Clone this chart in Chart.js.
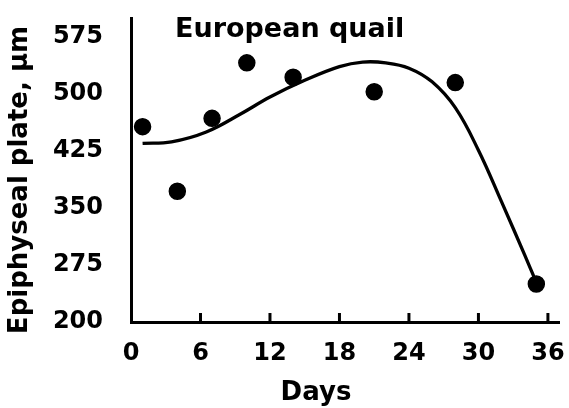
<!DOCTYPE html>
<html>
<head>
<meta charset="utf-8">
<script src="https://cdn.jsdelivr.net/npm/chart.js@4"></script>
<style>
  body { margin: 0; background: #fff; }
</style>
</head>
<body>
<canvas id="myChart" width="569" height="408"></canvas>
<script>
// measured points (days vs epiphyseal plate, um)
var days = [1, 4, 7, 10, 14, 21, 28, 35];
var plateWidth = [457, 372, 468, 541, 522, 503, 515, 250];

// trend curve
var trendDays = [1, 3.5, 6.5, 9.5, 12, 15, 18, 20, 22, 24, 26, 28, 30, 32, 34, 35];
var trendValues = [435, 437, 450, 474, 496, 518, 536, 542, 541, 534, 516, 482, 426, 358, 288, 252];

var xTicks = [0, 6, 12, 18, 24, 30, 36];
var yTicks = [200, 275, 350, 425, 500, 575];

var FONT = 'DejaVu Sans, Verdana, sans-serif';

function toXY(xs, ys) {
  return xs.map(function (x, i) { return { x: x, y: ys[i] }; });
}

// tick marks pointing up into the plot, plus the three titles
var extras = {
  id: 'extras',
  afterDraw: function (chart) {
    var ctx = chart.ctx;
    var xs = chart.scales.x;
    var area = chart.chartArea;
    ctx.save();
    ctx.strokeStyle = '#000';
    ctx.lineWidth = 3;
    xTicks.forEach(function (v) {
      if (v === 0) return;
      var px = xs.getPixelForValue(v);
      ctx.beginPath();
      ctx.moveTo(px, area.bottom);
      ctx.lineTo(px, area.bottom - 9);
      ctx.stroke();
    });

    ctx.fillStyle = '#000';
    ctx.textBaseline = 'alphabetic';
    ctx.textAlign = 'left';
    ctx.font = 'bold 27px ' + FONT;
    ctx.fillText('European quail', 175, 37);

    ctx.textAlign = 'center';
    ctx.font = 'bold 26px ' + FONT;
    ctx.fillText('Days', 316, 400);

    ctx.translate(20, 180);
    ctx.rotate(-Math.PI / 2);
    ctx.textBaseline = 'middle';
    ctx.fillText('Epiphyseal plate, µm', 0, 0);
    ctx.restore();
  }
};

var ctx = document.getElementById('myChart').getContext('2d');
var chart = new Chart(ctx, {
  type: 'scatter',
  data: {
    datasets: [{
      label: 'trend',
      data: toXY(trendDays, trendValues),
      showLine: true,
      borderColor: '#000',
      borderWidth: 3.3,
      pointRadius: 0,
      tension: 0.4,
      fill: false
    }, {
      label: 'Epiphyseal plate',
      data: toXY(days, plateWidth),
      backgroundColor: '#000',
      borderColor: '#000',
      borderWidth: 1.5,
      pointRadius: 8
    }]
  },
  options: {
    responsive: false,
    animation: false,
    devicePixelRatio: 1,
    layout: { padding: { top: 18, right: 7, bottom: 0, left: 0 } },
    plugins: {
      legend: { display: false },
      tooltip: { enabled: false }
    },
    scales: {
      x: {
        type: 'linear',
        min: 0,
        max: 37,
        afterBuildTicks: function (s) { s.ticks = xTicks.map(function (v) { return { value: v }; }); },
        afterFit: function (s) { s.height = 86; s.paddingLeft = 0; s.paddingRight = 0; },
        grid: { display: true, drawOnChartArea: false, drawTicks: false },
        border: { color: '#000', width: 3 },
        ticks: {
          color: '#000',
          padding: 17,
          maxRotation: 0,
          font: { family: FONT, size: 24, weight: 'bold' }
        }
      },
      y: {
        min: 200,
        max: 600,
        afterBuildTicks: function (s) { s.ticks = yTicks.map(function (v) { return { value: v }; }); },
        afterFit: function (s) { s.width = 131; s.paddingTop = 0; s.paddingBottom = 0; },
        grid: { display: true, drawOnChartArea: false, drawTicks: false },
        border: { color: '#000', width: 3 },
        ticks: {
          color: '#000',
          padding: 28,
          font: { family: FONT, size: 24, weight: 'bold' }
        }
      }
    }
  },
  plugins: [extras]
});
</script>
</body>
</html>
